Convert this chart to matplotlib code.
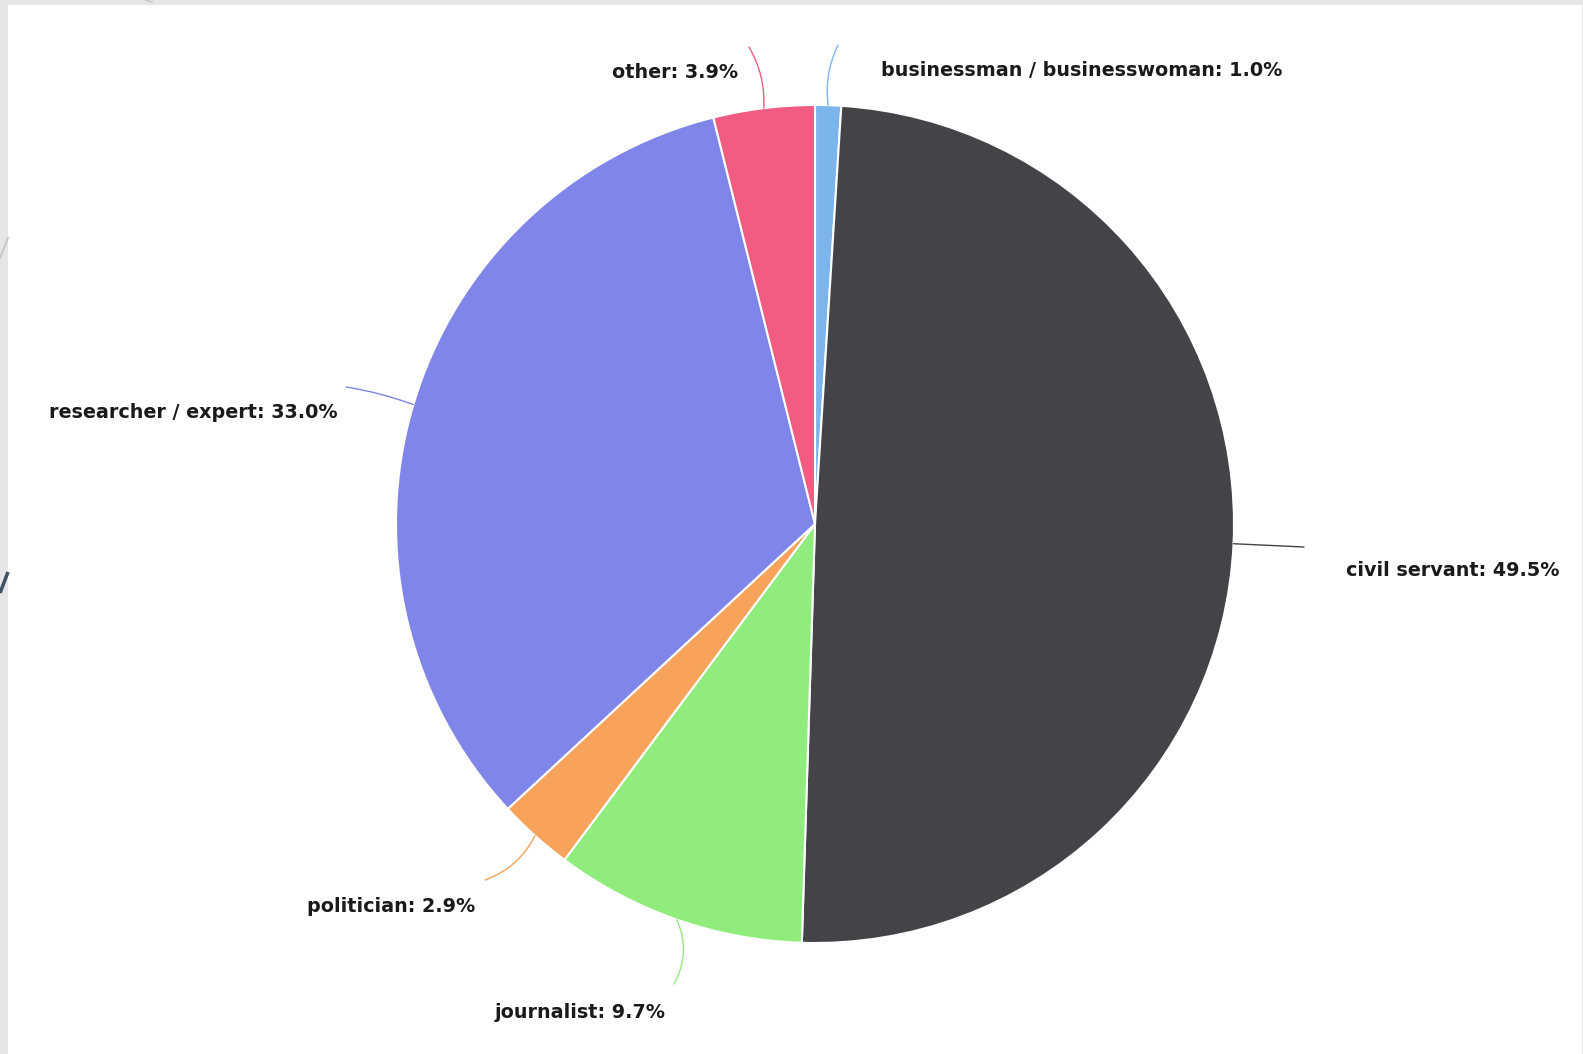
import numpy as np
import matplotlib.pyplot as plt
from matplotlib.patches import Rectangle

# data (clockwise from 12 o'clock)
labels = ['businessman / businesswoman', 'civil servant', 'journalist',
          'politician', 'researcher / expert', 'other']
shares = [1.0, 49.5, 9.7, 2.9, 33.0, 3.9]
colors = ['#7cb5ec', '#434348', '#90ed7d', '#f7a35c', '#8085e9', '#f15c80']

# layout in pixels (y measured from the top of the picture)
W, H = 1583, 1054
cx, cy, rad = 815, 524, 419
# connector end point, label anchor, horizontal alignment, curve
lab_layout = [
    ((838, 45), (881, 71), 'left', -0.15),
    ((1304, 547), (1346, 571), 'left', 0.0),
    ((674, 984), (580, 1012), 'center', -0.25),
    ((485, 880), (391, 906), 'center', -0.2),
    ((346, 387), (338, 413), 'right', 0.05),
    ((749, 47), (738, 73), 'right', 0.15),
]

fig = plt.figure(figsize=(W/100, H/100), dpi=100)
fig.patch.set_facecolor('#e6e6e6')
ax = fig.add_axes([0, 0, 1, 1])

# slide background decor
ax.plot([0, 8], [H-593, H-572], color='#3d5068', lw=2.5, solid_capstyle='butt')
ax.plot([0, 8], [H-258, H-238], color='#c8c8cc', lw=1.5)
ax.plot([146, 152], [H, H-2], color='#c8c8cc', lw=1.2)
ax.add_patch(Rectangle((8, 0), 1574, H-5, facecolor='white', edgecolor='none', zorder=1))

wedges, _ = ax.pie(shares, colors=colors, startangle=90, counterclock=False,
                   center=(cx, H-cy), radius=rad,
                   wedgeprops=dict(edgecolor='white', linewidth=1.5, zorder=2))
for w in wedges:
    w.set_zorder(2)

for w, lab, val, col, (end, txt, ha, rc) in zip(wedges, labels, shares, colors, lab_layout):
    ang = np.deg2rad((w.theta1 + w.theta2) / 2)
    sx = cx + rad*np.cos(ang)
    sy = (H-cy) + rad*np.sin(ang)
    ax.annotate('', xy=(end[0], H-end[1]), xytext=(sx, sy),
                arrowprops=dict(arrowstyle='-', color=col, lw=1.0,
                                connectionstyle='arc3,rad=%s' % rc,
                                shrinkA=0, shrinkB=0), zorder=3)
    ax.text(txt[0], H-txt[1], '%s: %.1f%%' % (lab, val), ha=ha, va='center',
            fontsize=13.8, fontweight='bold', color='#1a1a1a',
            family='DejaVu Sans', zorder=4)

ax.set_xlim(0, W)
ax.set_ylim(0, H)
ax.set_aspect('auto')
ax.axis('off')

fig.savefig('out.png', dpi=100, facecolor=fig.get_facecolor())
